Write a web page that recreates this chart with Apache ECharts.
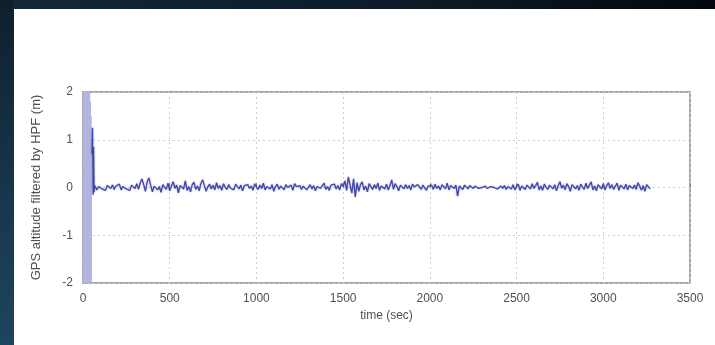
<!DOCTYPE html>
<html>
<head>
<meta charset="utf-8">
<script src="https://cdn.jsdelivr.net/npm/echarts@6/dist/echarts.min.js"></script>
<style>
  html, body { margin: 0; padding: 0; }
  body {
    width: 715px; height: 345px; overflow: hidden; position: relative;
    background: linear-gradient(to right, #13283a 0%, #0c1a26 60%, #04080c 100%);
  }
  #leftband {
    position: absolute; left: 0; top: 0; width: 14px; height: 345px;
    background: linear-gradient(to bottom, #0f1f2d 0%, #17384f 60%, #1d455f 100%);
  }
  #panel { position: absolute; left: 14px; top: 9px; right: 0; bottom: 0; background: #ffffff; }
  #chart { position: absolute; left: 0; top: 0; width: 715px; height: 345px; }
</style>
</head>
<body>
<div id="leftband"></div>
<div id="panel"></div>
<div id="chart"></div>
<script>
// Initial high-pass filter transient (time in s, altitude in m) - dense oscillation
const transientTimes  = [0, 2, 4, 6, 8, 10, 12, 14, 16, 18, 20, 22, 24, 26, 28, 30, 32, 34, 36, 38, 40, 42, 44, 46, 48, 50, 52];
const transientValues = [-3, 2.4, -3, 2.4, -3, 2.3, -3, 2.3, -3, 2.3, -3, 2.2, -3, 2.2, -3, 2.1, -2.9, 2.1, -2.8, 2.0, -2.7, 1.8, -2.6, 1.5, -2.5, 1.2, 0.7];

// End of transient (spike), drawn in the main trace
const spikeTimes  = [52, 55, 58, 61, 64, 67];
const spikeValues = [0.7, 1.25, -0.15, 0.85, -0.1, 0.04];

// Steady-state filtered altitude, sampled every 10 s from t = 70 s
const noiseStart = 70;
const noiseStep = 10;
const noiseValues = [
  0.03,-0.05,0.02,0.06,-0.03,0.01,-0.06,0.04,0.00,-0.02,
  0.05,-0.04,0.03,-0.01,0.07,-0.05,0.02,0.04,-0.03,0.01,
  -0.06,0.05,0.02,-0.02,0.08,-0.04,0.10,0.18,0.06,-0.08,
  0.12,0.20,0.05,-0.09,0.03,0.07,-0.05,0.02,-0.10,0.06,
  0.01,-0.04,0.09,-0.07,0.03,0.12,-0.02,0.05,-0.11,0.04,
  0.08,-0.03,0.14,-0.06,0.02,-0.09,0.06,0.11,-0.04,0.03,
  -0.07,0.09,0.16,0.04,-0.08,0.02,0.07,-0.03,0.05,-0.05,
  0.10,-0.02,0.04,-0.06,0.08,0.01,-0.04,0.06,-0.01,0.03,
  -0.05,0.07,0.02,-0.03,0.05,-0.07,0.04,0.00,0.06,-0.02,
  0.03,-0.06,0.08,0.01,-0.04,0.05,-0.02,0.09,-0.05,0.02,
  0.04,-0.03,0.06,-0.08,0.02,0.07,-0.04,0.03,0.01,-0.05,
  0.06,0.00,-0.03,0.05,-0.06,0.08,0.02,-0.02,0.04,-0.04,
  0.03,0.07,-0.05,0.01,0.06,-0.03,0.04,-0.07,0.02,0.05,
  -0.02,0.04,0.09,-0.04,0.02,-0.06,0.05,0.01,0.07,-0.03,
  0.04,-0.05,0.08,0.02,0.14,-0.06,0.22,0.05,-0.12,0.18,
  -0.20,0.10,-0.08,0.06,0.12,-0.05,0.03,-0.09,0.08,0.02,
  -0.04,0.06,-0.02,0.09,-0.06,0.03,0.05,-0.03,0.07,-0.05,
  0.04,0.16,-0.04,0.08,0.02,-0.07,0.05,0.01,-0.03,0.06,
  -0.02,0.04,-0.05,0.07,0.01,-0.03,0.06,0.02,-0.04,0.05,
  0.08,-0.06,0.03,0.00,0.05,-0.04,0.07,-0.02,0.03,-0.05,
  0.06,0.02,-0.03,0.09,-0.05,0.04,0.01,-0.02,0.05,-0.18,
  0.03,0.07,-0.04,0.05,0.02,-0.03,0.04,0.00,-0.02,0.03,
  0.01,-0.02,0.02,0.00,-0.01,0.03,-0.02,0.01,0.02,-0.01,
  0.00,0.02,-0.03,0.01,0.03,-0.02,0.04,-0.04,0.02,0.05,
  -0.03,0.06,-0.05,0.02,0.07,-0.06,0.03,0.01,-0.04,0.05,
  0.02,-0.03,0.08,-0.02,0.04,0.11,-0.05,0.03,-0.06,0.07,
  0.01,-0.04,0.05,0.09,-0.03,0.06,-0.07,0.04,0.12,-0.02,
  0.05,-0.05,0.08,0.02,-0.08,0.06,0.10,-0.03,0.04,-0.06,
  0.07,0.01,-0.04,0.09,-0.02,0.05,0.12,-0.05,0.03,-0.07,
  0.06,0.02,-0.03,0.08,-0.05,0.04,0.10,-0.02,0.06,-0.04,
  0.03,0.09,-0.06,0.05,0.01,-0.03,0.07,-0.05,0.04,0.08,
  -0.02,0.05,-0.04,0.10,0.03,-0.06,0.04,-0.08,0.06,0.02,
  -0.03
];

const xTicks = [0, 500, 1000, 1500, 2000, 2500, 3000, 3500];
const yTicks = [-2, -1, 0, 1, 2];

const transientData = transientTimes.map((t, i) => [t, transientValues[i]]);
const mainData = spikeTimes.map((t, i) => [t, spikeValues[i]]);
noiseValues.forEach((v, i) => mainData.push([noiseStart + i * noiseStep, v]));

const chart = echarts.init(document.getElementById('chart'), null, { renderer: 'canvas' });
const font = 'Liberation Sans, Arial, sans-serif';
const labelStyle = { color: '#505050', fontSize: 12, fontFamily: font };
chart.setOption({
  backgroundColor: 'transparent',
  animation: false,
  grid: { left: 83, right: 25, top: 92, bottom: 62, show: true, borderColor: '#a8a8a8', borderWidth: 2, backgroundColor: 'transparent' },
  xAxis: {
    type: 'value', min: xTicks[0], max: xTicks[xTicks.length - 1], interval: 500,
    name: 'time (sec)', nameLocation: 'middle', nameGap: 24,
    nameTextStyle: { color: '#505050', fontSize: 12, fontFamily: font },
    axisLine: { show: false },
    axisTick: { show: true, inside: true, length: 4, lineStyle: { color: '#777' } },
    axisLabel: Object.assign({ margin: 10, formatter: v => String(v) }, labelStyle),
    splitLine: { show: true, lineStyle: { color: '#d0d0d0', type: [2, 3], width: 1 } }
  },
  yAxis: {
    type: 'value', min: yTicks[0], max: yTicks[yTicks.length - 1], interval: 1,
    name: 'GPS altitude filtered by HPF (m)', nameLocation: 'middle', nameGap: 40,
    nameTextStyle: { color: '#505050', fontSize: 13, fontFamily: font },
    axisLine: { show: false },
    axisTick: { show: true, inside: true, length: 4, lineStyle: { color: '#777' } },
    axisLabel: Object.assign({ margin: 10 }, labelStyle),
    splitLine: { show: true, lineStyle: { color: '#d0d0d0', type: [2, 3], width: 1 } }
  },
  series: [{
    type: 'line', data: transientData, showSymbol: false, clip: true,
    lineStyle: { color: '#b3b5df', width: 1 }
  }, {
    type: 'line', data: mainData, showSymbol: false, clip: true,
    lineStyle: { color: '#4346a8', width: 1.3, shadowColor: 'rgba(67,70,168,0.45)', shadowBlur: 2 }
  }]
});
</script>
</body>
</html>
